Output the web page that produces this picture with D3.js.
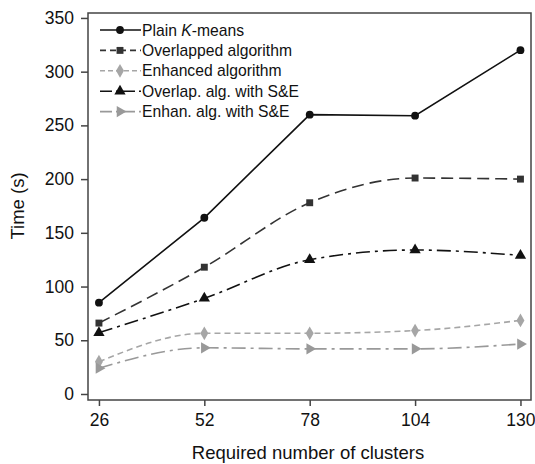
<!DOCTYPE html>
<html>
<head>
<meta charset="utf-8">
<script src="https://cdn.jsdelivr.net/npm/d3@7"></script>
<style>
  body { margin: 0; background: #fff; }
  text { font-family: Arial, "Liberation Sans", sans-serif; }
</style>
</head>
<body>
<div id="graph"></div>
<script>
const w = 535;
const h = 464;

// data
const clusters = [26, 52, 78, 104, 130];
const plainKmeans = [85, 164, 260, 259, 320];
const overlapped = [66, 118, 178, 201, 200];
const enhanced = [30, 56.5, 56.5, 59, 68.5];
const overlapSE = [57, 89, 125, 134, 129];
const enhanSE = [24, 43, 42, 42, 46.5];
const seriesNames = ["Plain K-means", "Overlapped algorithm", "Enhanced algorithm", "Overlap. alg. with S&E", "Enhan. alg. with S&E"];
const yTicks = [0, 50, 100, 150, 200, 250, 300, 350];

const series = [
  { name: seriesNames[0], values: plainKmeans, color: "#111", dash: null, legDash: null, sym: d3.symbolCircle, size: 48, curve: d3.curveLinear, rot: 0 },
  { name: seriesNames[1], values: overlapped, color: "#333", dash: "12,6", legDash: "6,4", sym: d3.symbolSquare, size: 48, curve: d3.curveMonotoneX, rot: 0 },
  { name: seriesNames[2], values: enhanced, color: "#a6a6a6", dash: "6,4", legDash: "5,3", sym: d3.symbolDiamond, size: 55, curve: d3.curveMonotoneX, rot: 0 },
  { name: seriesNames[3], values: overlapSE, color: "#111", dash: "14,5,3,5", legDash: "12,4,3,4", sym: d3.symbolTriangle, size: 55, curve: d3.curveMonotoneX, rot: 0 },
  { name: seriesNames[4], values: enhanSE, color: "#999", dash: "14,5,3,5", legDash: "12,4,3,4", sym: d3.symbolTriangle, size: 55, curve: d3.curveMonotoneX, rot: 90 }
];

const mLeft = 88, mRight = 531, mTop = 13, mBottom = 400;

const svg = d3.select('#graph')
  .append('svg')
  .attr('width', w)
  .attr('height', h);

const xScale = d3.scaleLinear().domain([23.3, 132.6]).range([mLeft, mRight]);
const yScale = d3.scaleLinear().domain([-5.6, 354.6]).range([mBottom, mTop]);

// plot box
svg.append('rect')
  .attr('x', mLeft).attr('y', mTop)
  .attr('width', mRight - mLeft).attr('height', mBottom - mTop)
  .attr('fill', 'none').attr('stroke', '#444').attr('stroke-width', 1.5);

// axes
const xAxis = svg.append('g')
  .attr('transform', 'translate(0,' + mBottom + ')')
  .call(d3.axisBottom(xScale).tickValues(clusters).tickSize(6).tickSizeOuter(0).tickPadding(8));
const yAxis = svg.append('g')
  .attr('transform', 'translate(' + mLeft + ',0)')
  .call(d3.axisLeft(yScale).tickValues(yTicks).tickSize(7).tickSizeOuter(0).tickPadding(7));

[xAxis, yAxis].forEach(ax => {
  ax.select('.domain').remove();
  ax.selectAll('line').attr('stroke', '#444').attr('stroke-width', 1.5);
  ax.selectAll('text').style('font-size', '17.5px').attr('fill', '#111')
    .style('font-family', 'Arial, "Liberation Sans", sans-serif');
});

// axis labels
svg.append('text')
  .attr('x', 308)
  .attr('y', 459)
  .attr('text-anchor', 'middle')
  .style('font-size', '18.5px')
  .attr('fill', '#111')
  .text('Required number of clusters');

svg.append('text')
  .attr('transform', 'rotate(-90)')
  .attr('x', -206)
  .attr('y', 24)
  .attr('text-anchor', 'middle')
  .style('font-size', '18.5px')
  .attr('fill', '#111')
  .text('Time (s)');

// lines and markers
series.forEach(s => {
  const pts = clusters.map((c, i) => [c, s.values[i]]);
  const line = d3.line()
    .x(d => xScale(d[0]))
    .y(d => yScale(d[1]))
    .curve(s.curve);
  svg.append('path')
    .datum(pts)
    .attr('d', line)
    .attr('fill', 'none')
    .attr('stroke', s.color)
    .attr('stroke-width', 1.6)
    .attr('stroke-dasharray', s.dash);
  svg.append('g').selectAll('path')
    .data(pts)
    .enter()
    .append('path')
    .attr('d', d3.symbol().type(s.sym).size(s.size))
    .attr('transform', d => 'translate(' + xScale(d[0]) + ',' + yScale(d[1]) + ') rotate(' + s.rot + ')')
    .attr('fill', s.color);
});

// legend
const legend = svg.append('g')
  .attr('transform', 'translate(100,30)')
  .selectAll('g')
  .data(series)
  .enter()
  .append('g')
  .attr('transform', (d, i) => 'translate(0,' + i * 20.4 + ')');

legend.append('line')
  .attr('x1', 0).attr('x2', 41)
  .attr('stroke', d => d.color)
  .attr('stroke-width', 1.6)
  .attr('stroke-dasharray', d => d.legDash);

legend.append('path')
  .attr('d', d => d3.symbol().type(d.sym).size(d.size)())
  .attr('transform', d => 'translate(20,0) rotate(' + d.rot + ')')
  .attr('fill', d => d.color);

const lt = legend.append('text')
  .attr('x', 42)
  .attr('y', 0)
  .attr('dy', '0.35em')
  .style('font-size', '15.7px')
  .attr('fill', '#111');

lt.each(function(d) {
  const t = d3.select(this);
  if (d.name === "Plain K-means") {
    t.append('tspan').text('Plain ');
    t.append('tspan').style('font-style', 'italic').text('K');
    t.append('tspan').text('-means');
  } else {
    t.text(d.name);
  }
});
</script>
</body>
</html>
